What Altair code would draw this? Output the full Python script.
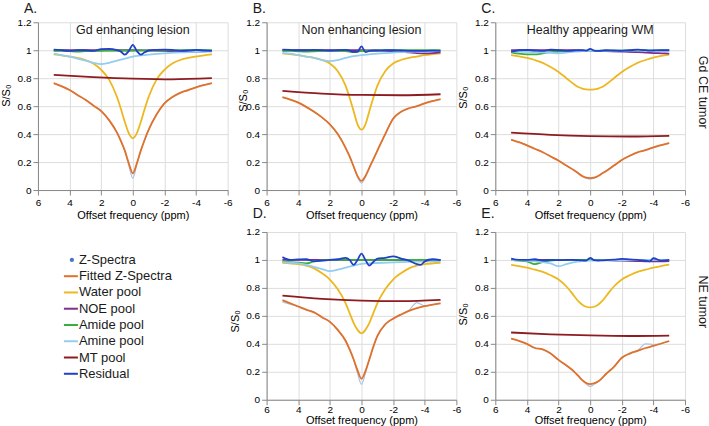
import altair as alt
import pandas as pd

# Offset grids (ppm) on which each kind of curve is sampled
OFF_MAIN = [5, 4, 3.5, 3, 2.5, 2, 1.5, 1, 0.75, 0.5, 0.25, 0, -0.25, -0.5, -0.75,
            -1, -1.5, -2, -2.5, -3, -3.5, -4, -5]
OFF_MT = [5, 2.5, 0, -2.5, -5]
OFF_POOL = [5, 4.5, 4, 3.5, 3, 2.5, 2, 1.5, 1, 0.5, 0, -1, -2, -3, -3.5, -4, -4.5, -5]
OFF_RES = [5, 4.5, 4, 3.5, 3, 2.5, 2, 1.5, 1, 0.75, 0.5, 0.25, 0, -0.25, -0.5, -0.75,
           -1, -1.5, -2, -2.5, -3, -3.5, -3.75, -4, -4.5, -5]

# A. Gd enhancing lesion (Gd CE tumor)
A_Z = [0.762, 0.718, 0.678, 0.647, 0.603, 0.567, 0.498, 0.412, 0.348, 0.278, 0.175, 0.085,
       0.18, 0.282, 0.358, 0.432, 0.538, 0.622, 0.663, 0.697, 0.713, 0.737, 0.763]
A_FIT = [0.765, 0.715, 0.68, 0.645, 0.605, 0.565, 0.50, 0.41, 0.35, 0.28, 0.19, 0.12,
         0.19, 0.28, 0.36, 0.43, 0.54, 0.62, 0.665, 0.695, 0.715, 0.735, 0.765]
A_WATER = [0.97, 0.955, 0.945, 0.93, 0.905, 0.86, 0.79, 0.665, 0.58, 0.485, 0.405, 0.37,
           0.405, 0.485, 0.58, 0.665, 0.79, 0.86, 0.905, 0.93, 0.945, 0.955, 0.97]
A_NOE = [1.0, 1.0, 1.0, 1.0, 1.0, 1.0, 1.0, 1.0, 1.0, 1.0, 1.0, 0.998, 0.995, 0.99, 0.988, 0.99, 0.992, 0.994]
A_AMIDE = [0.995, 0.995, 0.993, 0.99, 0.993, 0.995, 0.996, 0.997, 0.998, 0.998, 0.998, 0.999, 0.999, 1.0, 1.0, 1.0, 1.0, 1.0]
A_AMINE = [0.975, 0.965, 0.955, 0.94, 0.925, 0.91, 0.90, 0.91, 0.925, 0.94, 0.955, 0.968, 0.978, 0.984, 0.986, 0.988, 0.989, 0.99]
A_MT = [0.823, 0.808, 0.797, 0.792, 0.80]
A_RES = [1.005, 1.0, 0.995, 1.0, 1.0, 0.995, 1.008, 1.01, 1.0, 0.99, 0.968, 0.995, 1.038,
         0.995, 0.968, 0.985, 0.998, 1.003, 1.005, 1.002, 0.996, 0.998, 1.0, 1.002, 0.998, 0.995]

# B. Non enhancing lesion (Gd CE tumor)
B_Z = [0.662, 0.627, 0.593, 0.562, 0.518, 0.472, 0.398, 0.302, 0.238, 0.168, 0.092, 0.05,
       0.095, 0.158, 0.222, 0.282, 0.398, 0.512, 0.558, 0.587, 0.598, 0.622, 0.648]
B_FIT = [0.665, 0.625, 0.595, 0.56, 0.52, 0.47, 0.40, 0.30, 0.24, 0.17, 0.10, 0.065,
         0.10, 0.16, 0.22, 0.28, 0.40, 0.51, 0.56, 0.585, 0.60, 0.62, 0.65]
B_WATER = [0.978, 0.965, 0.955, 0.945, 0.93, 0.905, 0.85, 0.745, 0.66, 0.565, 0.47, 0.432,
           0.47, 0.565, 0.66, 0.745, 0.85, 0.905, 0.93, 0.945, 0.955, 0.965, 0.978]
B_NOE = [1.0, 1.0, 1.0, 1.0, 1.0, 1.0, 1.0, 1.0, 1.0, 1.0, 1.0, 0.998, 0.994, 0.985, 0.98, 0.978, 0.98, 0.985]
B_AMIDE = [0.995, 0.995, 0.992, 0.99, 0.992, 0.995, 0.996, 0.996, 0.994, 0.986, 0.995, 0.999, 1.0, 1.0, 1.0, 1.0, 1.0, 1.0]
B_AMINE = [0.98, 0.975, 0.965, 0.955, 0.945, 0.93, 0.922, 0.93, 0.945, 0.958, 0.965, 0.975, 0.983, 0.988, 0.99, 0.992, 0.993, 0.995]
B_MT = [0.71, 0.69, 0.68, 0.678, 0.685]
B_RES = [1.005, 1.002, 1.0, 1.0, 1.002, 1.0, 0.998, 1.0, 1.002, 0.998, 0.988, 0.99, 1.028,
         0.986, 0.995, 0.998, 0.998, 1.0, 1.0, 0.998, 0.996, 0.995, 0.995, 0.996, 0.997, 0.995]

# C. Healthy appearing WM (Gd CE tumor)
C_Z = [0.358, 0.322, 0.293, 0.272, 0.238, 0.212, 0.173, 0.142, 0.118, 0.098, 0.084, 0.078,
       0.085, 0.098, 0.12, 0.137, 0.173, 0.217, 0.243, 0.272, 0.287, 0.303, 0.337]
C_FIT = [0.36, 0.32, 0.295, 0.27, 0.24, 0.21, 0.175, 0.14, 0.12, 0.10, 0.088, 0.085,
         0.088, 0.10, 0.118, 0.135, 0.175, 0.215, 0.245, 0.27, 0.285, 0.305, 0.335]
C_WATER = [0.965, 0.945, 0.93, 0.91, 0.88, 0.845, 0.80, 0.755, 0.737, 0.726, 0.72, 0.718,
           0.72, 0.726, 0.737, 0.755, 0.80, 0.845, 0.88, 0.91, 0.93, 0.947, 0.968]
C_NOE = [1.0, 1.0, 1.0, 1.0, 1.0, 1.0, 1.0, 1.0, 1.0, 0.998, 0.996, 0.993, 0.99, 0.986, 0.983, 0.98, 0.978, 0.976]
C_AMIDE = [0.985, 0.975, 0.97, 0.97, 0.978, 0.986, 0.99, 0.993, 0.995, 0.995, 0.996, 0.997, 0.998, 0.999, 1.0, 1.0, 1.0, 1.0]
C_AMINE = [0.99, 0.99, 0.988, 0.986, 0.985, 0.982, 0.978, 0.983, 0.99, 0.993, 0.995, 0.997, 0.998, 0.999, 1.0, 1.0, 1.0, 1.0]
C_MT = [0.41, 0.395, 0.386, 0.383, 0.388]
C_RES = [0.99, 1.0, 1.002, 0.998, 0.995, 1.004, 1.0, 0.996, 0.998, 1.0, 1.0, 0.997, 1.01,
         0.998, 0.995, 0.997, 1.0, 0.998, 0.996, 1.0, 1.004, 1.0, 0.997, 0.998, 1.0, 1.0]

# D. Non enhancing lesion (NE tumor)
D_Z = [0.70, 0.665, 0.642, 0.628, 0.588, 0.56, 0.497, 0.423, 0.357, 0.287, 0.19, 0.11,
       0.19, 0.292, 0.378, 0.452, 0.535, 0.583, 0.607, 0.64, 0.695, 0.672, 0.692]
D_FIT = [0.712, 0.667, 0.645, 0.625, 0.59, 0.557, 0.50, 0.42, 0.36, 0.29, 0.21, 0.15,
         0.205, 0.29, 0.38, 0.455, 0.54, 0.58, 0.61, 0.636, 0.655, 0.67, 0.69]
D_WATER = [0.98, 0.97, 0.96, 0.94, 0.905, 0.86, 0.79, 0.69, 0.62, 0.55, 0.50, 0.475,
           0.50, 0.55, 0.62, 0.69, 0.79, 0.86, 0.905, 0.94, 0.96, 0.97, 0.98]
D_NOE = [1.0, 1.0, 1.0, 1.0, 1.0, 1.0, 1.0, 1.0, 1.0, 1.0, 1.0, 1.0, 1.0, 0.997, 0.995, 0.996, 0.998, 1.0]
D_AMIDE = [0.99, 0.985, 0.98, 0.975, 0.99, 0.997, 1.0, 1.0, 1.0, 1.0, 1.0, 1.0, 1.0, 1.0, 1.0, 1.0, 1.0, 1.0]
D_AMINE = [0.985, 0.98, 0.975, 0.965, 0.95, 0.935, 0.92, 0.93, 0.945, 0.96, 0.972, 0.978, 0.983, 0.986, 0.988, 0.989, 0.99, 0.99]
D_MT = [0.745, 0.722, 0.709, 0.705, 0.714]
D_RES = [1.02, 1.0, 1.003, 1.005, 0.99, 0.995, 1.0, 1.005, 1.015, 1.0, 0.965, 1.0, 1.045,
         1.0, 0.96, 0.985, 1.01, 1.015, 1.025, 1.01, 0.995, 0.97, 0.965, 0.99, 1.005, 0.998]

# E. Healthy appearing WM (NE tumor)
E_Z = [0.44, 0.398, 0.372, 0.358, 0.332, 0.283, 0.247, 0.198, 0.172, 0.138, 0.112, 0.095,
       0.11, 0.132, 0.153, 0.186, 0.233, 0.298, 0.332, 0.352, 0.40, 0.395, 0.418]
E_FIT = [0.437, 0.40, 0.37, 0.36, 0.33, 0.285, 0.245, 0.20, 0.17, 0.14, 0.12, 0.112,
         0.118, 0.13, 0.155, 0.184, 0.235, 0.30, 0.33, 0.35, 0.37, 0.385, 0.42]
E_WATER = [0.965, 0.945, 0.93, 0.915, 0.89, 0.86, 0.81, 0.74, 0.705, 0.68, 0.665, 0.66,
           0.665, 0.68, 0.705, 0.74, 0.81, 0.86, 0.89, 0.915, 0.93, 0.945, 0.967]
E_NOE = [1.0, 1.0, 1.0, 1.0, 1.0, 1.0, 1.0, 1.0, 1.0, 1.0, 1.0, 0.998, 0.995, 0.992, 0.99, 0.99, 0.99, 0.992]
E_AMIDE = [1.0, 0.995, 0.99, 0.97, 0.985, 0.995, 1.0, 1.0, 1.0, 1.0, 1.0, 1.0, 1.0, 1.0, 1.0, 1.0, 1.0, 1.0]
E_AMINE = [1.0, 0.998, 0.995, 0.99, 0.985, 0.975, 0.955, 0.97, 0.985, 0.992, 0.995, 0.997, 0.998, 0.999, 1.0, 1.0, 1.0, 1.0]
E_MT = [0.481, 0.468, 0.46, 0.456, 0.459]
E_RES = [1.01, 1.0, 1.0, 1.005, 0.995, 1.0, 0.998, 1.0, 1.0, 0.998, 0.997, 0.995, 1.015,
         0.998, 0.996, 0.997, 0.998, 1.002, 1.008, 1.004, 1.0, 0.995, 0.99, 1.012, 0.995, 1.0]

SERIES = ["Z-Spectra", "Fitted Z-Spectra", "Water pool", "NOE pool",
          "Amide pool", "Amine pool", "MT pool", "Residual"]
COLORS = ["#4a74c0", "#e0702a", "#edb81f", "#7e2f8e",
          "#3aae3a", "#94cdf0", "#8e1b1f", "#2040c8"]
X_TICKS = [6, 4, 2, 0, -2, -4, -6]
Y_TICKS = [0, 0.2, 0.4, 0.6, 0.8, 1.0, 1.2]

FONT = "Liberation Sans"
W, H = 190, 168
NO_FRAME = alt.ViewBackground(strokeWidth=0, strokeOpacity=0)


def panel_frame(z, fit, water, noe, amide, amine, mt, res):
    parts = [("Z-Spectra", OFF_MAIN, z), ("Fitted Z-Spectra", OFF_MAIN, fit),
             ("Water pool", OFF_MAIN, water), ("NOE pool", OFF_POOL, noe),
             ("Amide pool", OFF_POOL, amide), ("Amine pool", OFF_POOL, amine),
             ("MT pool", OFF_MT, mt), ("Residual", OFF_RES, res)]
    rows = []
    for name, offs, vals in parts:
        for o, v in zip(offs, vals):
            rows.append({"offset": o, "value": v, "series": name})
    return pd.DataFrame(rows)


def text_layer(label, x, y, size, **kw):
    return alt.Chart(pd.DataFrame({"t": [label]})).mark_text(
        font=FONT, fontSize=size, color="#1a1a1a", **kw
    ).encode(text="t:N", x=alt.value(x), y=alt.value(y))


def panel(df, letter, letter_y, heading, title_x, title_y, row_label=None,
          x_title_pad=3, x_label_pad=2):
    x = alt.X("offset:Q",
              scale=alt.Scale(domain=[-6, 6], reverse=True, nice=False, zero=False),
              axis=alt.Axis(values=X_TICKS, labelExpr="datum.value + ''",
                            title="Offset frequency (ppm)", titlePadding=x_title_pad,
                            labelPadding=x_label_pad, titleFontWeight=400,
                            labelFlush=False, labelOverlap=False, labelBound=False))
    y = alt.Y("value:Q",
              scale=alt.Scale(domain=[0, 1.2], nice=False, zero=False),
              axis=alt.Axis(values=Y_TICKS, labelExpr="datum.value + ''",
                            title="S/S₀", titleX=title_x, titleY=title_y,
                            titleBaseline="middle", titleFontWeight=400,
                            labelOverlap=False, labelBound=False, labelFlush=False))
    color = alt.Color("series:N", scale=alt.Scale(domain=SERIES, range=COLORS), legend=None)

    # measured spectrum underneath, pool curves and residual on top
    zspec = alt.Chart(df).transform_filter(alt.datum.series == "Z-Spectra").mark_line(
        strokeWidth=1.2, color="#aac4e4", interpolate="monotone"
    ).encode(x=x, y=y)
    curves = alt.Chart(df).transform_filter(alt.datum.series != "Z-Spectra").mark_line(
        strokeWidth=1.8, interpolate="monotone"
    ).encode(x=x, y=y, color=color, detail="series:N")

    layers = [zspec, curves, text_layer(letter, -14, letter_y, 14, align="left", baseline="middle")]
    if heading:
        layers.append(text_layer(heading, W / 2, 8, 12.5, align="center", baseline="middle"))
    if row_label:
        layers.append(text_layer(row_label, W + 18, 70, 12.5, align="center",
                                 baseline="middle", angle=90))
    return alt.layer(*layers).properties(width=W, height=H, view=NO_FRAME)


pA = panel(panel_frame(A_Z, A_FIT, A_WATER, A_NOE, A_AMIDE, A_AMINE, A_MT, A_RES),
           "A.", -13, "Gd enhancing lesion", -31, 73)
pB = panel(panel_frame(B_Z, B_FIT, B_WATER, B_NOE, B_AMIDE, B_AMINE, B_MT, B_RES),
           "B.", -13, "Non enhancing lesion", -23, 78)
pC = panel(panel_frame(C_Z, C_FIT, C_WATER, C_NOE, C_AMIDE, C_AMINE, C_MT, C_RES),
           "C.", -13, "Healthy appearing WM", -32, 75, row_label="Gd CE tumor")
pD = panel(panel_frame(D_Z, D_FIT, D_WATER, D_NOE, D_AMIDE, D_AMINE, D_MT, D_RES),
           "D.", -18, None, -31, 89, x_title_pad=0, x_label_pad=0)
pE = panel(panel_frame(E_Z, E_FIT, E_WATER, E_NOE, E_AMIDE, E_AMINE, E_MT, E_RES),
           "E.", -18, None, -32, 82, row_label="NE tumor", x_title_pad=0, x_label_pad=0)

# Legend drawn as its own cell
legend_df = pd.DataFrame({"name": SERIES, "row": list(range(len(SERIES)))})
ly = alt.Y("row:Q", scale=alt.Scale(domain=[0, 7], range=[28, 142]), axis=None)
lcolor = alt.Color("name:N", scale=alt.Scale(domain=SERIES, range=COLORS), legend=None)
leg_base = alt.Chart(legend_df)
leg_lines = leg_base.transform_filter(alt.datum.name != "Z-Spectra").mark_rule(strokeWidth=2).encode(
    x=alt.value(26), x2=alt.value(40), y=ly, color=lcolor)
leg_dot = leg_base.transform_filter(alt.datum.name == "Z-Spectra").mark_point(
    filled=True, size=18, opacity=1).encode(x=alt.value(34), y=ly, color=lcolor)
leg_text = leg_base.mark_text(align="left", baseline="middle", font=FONT, fontSize=13,
                              color="#1a1a1a").encode(x=alt.value(41), y=ly, text="name:N")
legend_cell = alt.layer(leg_lines, leg_dot, leg_text).properties(width=W, height=H, view=NO_FRAME)

chart = alt.concat(
    pA, pB, pC, legend_cell, pD, pE,
    columns=3, spacing={"row": 42, "column": 39}, bounds="flush", align="all"
).resolve_scale(
    x="independent", y="independent"
).properties(
    padding={"left": 1, "top": 2, "right": 0, "bottom": 0}
).configure_view(
    strokeWidth=0, stroke="transparent"
).configure_axis(
    grid=False, domainColor="#262626", tickColor="#262626", tickSize=3,
    labelFont=FONT, labelFontSize=10, labelFontWeight="bold", labelColor="#111111",
    labelPadding=2, titleFont=FONT, titleFontSize=12, titleFontWeight=400,
    titleColor="#262626"
).configure(background="white")

chart.save("out.html", embed_options={"renderer": "svg", "actions": False})
